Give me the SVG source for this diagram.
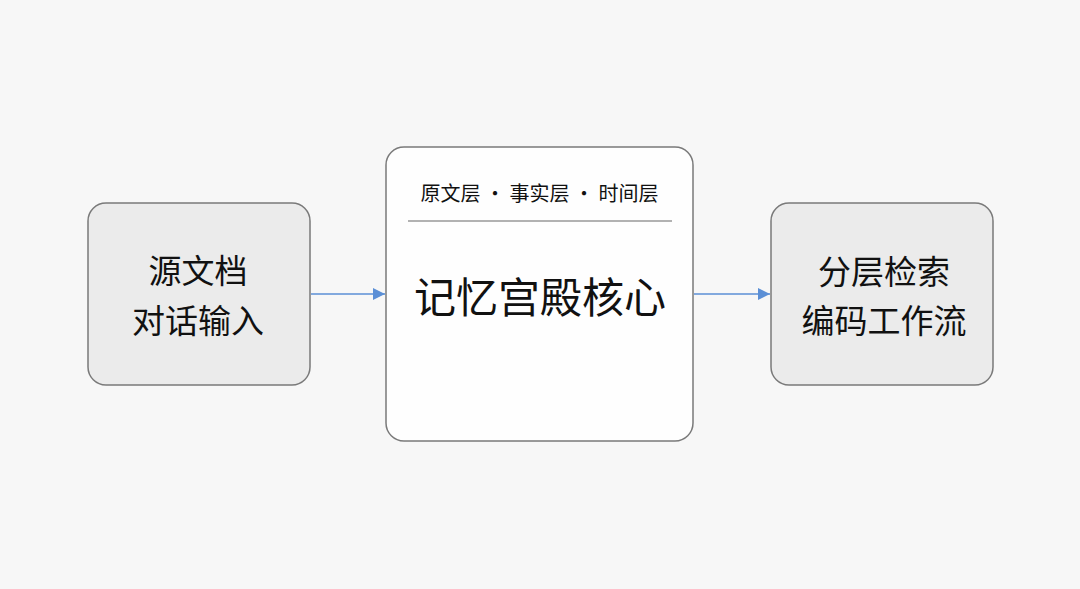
<svg xmlns="http://www.w3.org/2000/svg" width="1080" height="589" viewBox="0 0 1080 589">
<defs>
<style>
.box{stroke:#7a7a7a;stroke-width:1.5}
.side{fill:#ebebeb}
.core{fill:#fefefe}
.t{font-family:"Noto Sans CJK SC","Noto Sans",sans-serif;fill:#111;text-anchor:middle}
.conn{stroke:#5b8fd6;stroke-width:1.6;fill:none}
</style>
<marker id="arr" viewBox="0 0 10 10" refX="10" refY="5" markerWidth="12" markerHeight="12" markerUnits="userSpaceOnUse" orient="auto">
<path d="M0,0 L10,5 L0,10 z" fill="#5b8fd6"/>
</marker>
</defs>
<rect width="1080" height="589" fill="#f7f7f7"/>
<g id="connectors">
<line class="conn" x1="311" y1="294" x2="385" y2="294" marker-end="url(#arr)"/>
<line class="conn" x1="694" y1="294" x2="770" y2="294" marker-end="url(#arr)"/>
</g>
<g id="node-source">
<rect class="box side" x="88" y="203" width="222" height="182" rx="18"/>
<text class="t" x="198" y="283" font-size="33">源文档</text>
<text class="t" x="198" y="333" font-size="33">对话输入</text>
</g>
<g id="node-core">
<rect class="box core" x="386" y="147" width="307" height="294" rx="18"/>
<text class="t" x="539.5" y="201" font-size="20" fill="#222">原文层 · 事实层 · 时间层</text>
<line x1="408" y1="221" x2="672" y2="221" stroke="#999" stroke-width="1.5"/>
<text class="t" x="540" y="313" font-size="42">记忆宫殿核心</text>
</g>
<g id="node-output">
<rect class="box side" x="771" y="203" width="222" height="182" rx="18"/>
<text class="t" x="884" y="284" font-size="33">分层检索</text>
<text class="t" x="884" y="333" font-size="33">编码工作流</text>
</g>
</svg>
